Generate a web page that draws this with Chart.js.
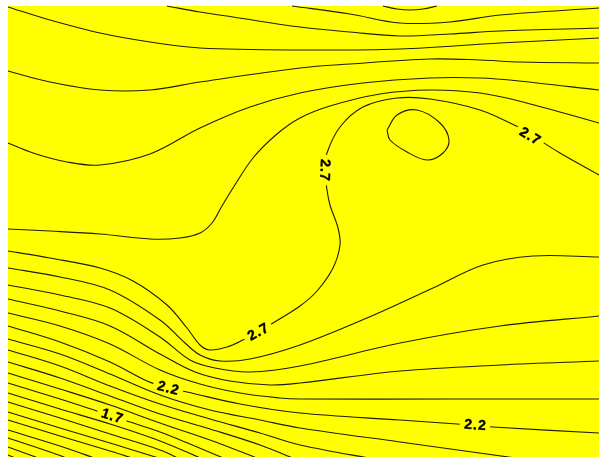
<!DOCTYPE html>
<html>
<head>
<meta charset="utf-8">
<script src="https://cdn.jsdelivr.net/npm/chart.js@4/dist/chart.umd.min.js"></script>
<style>
  html, body { margin: 0; padding: 0; background: #ffffff; overflow: hidden; }
  #wrap { width: 599px; height: 457px; }
  canvas { display: block; }
</style>
</head>
<body>
<div id="wrap"><canvas id="chart" width="599" height="457"></canvas></div>
<script>
// Isoline traces in field coordinates (x: 0..599 east, y: 0..457 south).
const lvl34 = [[383,6],[397,9],[410,10],[423,9],[437,6]];
const lvl33 = [[292,6],[350,14],[400,23],[450,22],[500,15],[599,8]];
const lvl32 = [[167,6],[200,12],[233,17],[300,27],[350,32],[400,36],[450,34],[500,31],[599,28]];
const lvl31 = [[8,7],[50,20],[100,33],[150,42],[200,48],[300,50],[400,49],[500,43],[599,38]];
const lvl30 = [[8,71],[50,82],[100,90],[150,90],[200,82],[300,68],[350,64],[430,59],[480,60],[520,62],[599,63]];
const lvl29 = [[8,143],[33,153],[67,162],[100,165],[150,154],[200,128],[250,107],[300,93],[363,83],[430,78],[480,78],[519,81],[599,90]];
const lvl28 = [[8,229],[50,231],[100,234],[150,239],[180,238],[200,233],[212,223],[222,206],[233,188],[253,158],[277,134],[300,118],[330,106],[380,94],[430,90],[480,93],[519,101],[599,123]];
const lvl27 = [[8,251],[50,258],[100,268],[133,281],[167,305],[187,328],[200,345],[210,350],[227,347],[243,340],[258,332],[273,323],[300,306],[317,291],[333,268],[340,245],[338,228],[330,205],[327,190],[325,170],[327,153],[340,127],[363,107],[397,98],[430,99],[480,110],[520,128],[530,134],[560,153],[599,175]];
const lvl27ring = [[387,130],[397,115],[417,110],[440,123],[449,140],[443,153],[427,160],[407,152],[390,140],[387,130]];
const lvl26 = [[8,268],[60,277],[110,290],[160,320],[185,343],[200,355],[220,361],[250,359],[300,345],[367,318],[433,288],[483,265],[533,256],[599,257]];
const lvl25 = [[8,285],[60,295],[110,308],[160,337],[190,360],[215,368],[250,372],[300,366],[400,343],[500,326],[599,316]];
const lvl24 = [[8,299],[60,311],[110,326],[160,354],[195,372],[230,381],[270,385],[300,383],[400,371],[500,365],[599,361]];
const lvl23 = [[8,313],[60,326],[110,344],[160,370],[200,384],[240,393],[280,398],[300,399],[450,399],[599,399]];
const lvl22 = [[8,326],[60,342],[110,362],[147,381],[168,388],[187,392],[240,404],[300,413],[400,420],[457,424],[475,425],[493,427],[599,433]];
const lvl21 = [[8,339],[60,354],[110,374],[160,395],[210,410],[260,420],[300,428],[400,442],[530,460]];
const lvl20 = [[8,350],[60,366],[110,386],[160,404],[210,419],[260,433],[300,445],[380,460]];
const lvl19 = [[8,362],[60,378],[110,396],[160,414],[210,429],[260,445],[300,461]];
const lvl18 = [[8,373],[60,389],[110,405],[160,423],[210,440],[262,460]];
const lvl17 = [[8,383],[60,399],[97,411],[112,416],[127,421],[160,432],[190,444],[228,460]];
const lvl16 = [[8,393],[60,409],[110,424],[160,441],[205,460]];
const lvl15 = [[8,402],[60,418],[110,434],[160,450],[182,460]];
const lvl14 = [[8,412],[60,428],[110,443],[165,460]];
const lvl13 = [[8,420],[60,436],[110,451],[138,460]];
const lvl12 = [[8,430],[60,446],[100,460]];
const lvl11 = [[8,438],[50,452],[72,460]];
const lvl10 = [[8,447],[30,455],[44,460]];
const lvl09 = [[8,455],[20,460]];

const isolines = [lvl34, lvl33, lvl32, lvl31, lvl30, lvl29, lvl28, lvl27, lvl27ring,
  lvl26, lvl25, lvl24, lvl23, lvl22, lvl21, lvl20, lvl19, lvl18, lvl17, lvl16,
  lvl15, lvl14, lvl13, lvl12, lvl11, lvl10, lvl09];

// Inline level labels: text, anchor on its isoline, and text direction (degrees).
const labelText = ['2.7', '2.7', '2.7', '2.2', '2.2', '1.7'];
const labelAt = [[325,170], [530,136], [258,332], [168,388], [475,425], [112,416]];
const labelAngle = [92, 31, -29, 15, 4, 18];

const FIELD = { x0: 8, y0: 6, x1: 599, y1: 457 };

const fieldBackground = {
  id: 'fieldBackground',
  beforeDatasetsDraw(chart) {
    const { ctx, scales: { x, y } } = chart;
    const left = x.getPixelForValue(FIELD.x0), right = x.getPixelForValue(FIELD.x1);
    const top = y.getPixelForValue(FIELD.y0), bottom = y.getPixelForValue(FIELD.y1);
    ctx.save();
    ctx.fillStyle = '#ffff00';
    ctx.fillRect(left, top, right - left, bottom - top);
    ctx.restore();
  }
};

const levelLabels = {
  id: 'levelLabels',
  afterDatasetsDraw(chart) {
    const { ctx, scales: { x, y } } = chart;
    ctx.save();
    ctx.font = 'bold 14px "Liberation Sans", Arial, sans-serif';
    ctx.letterSpacing = '1px';
    ctx.textAlign = 'center';
    ctx.textBaseline = 'middle';
    labelText.forEach((t, i) => {
      const px = x.getPixelForValue(labelAt[i][0]);
      const py = y.getPixelForValue(labelAt[i][1]);
      const w = ctx.measureText(t).width;
      ctx.save();
      ctx.translate(px, py);
      ctx.rotate(labelAngle[i] * Math.PI / 180);
      ctx.fillStyle = '#ffff00';
      ctx.fillRect(-w / 2 - 4, -6, w + 8, 12);
      ctx.fillStyle = '#000000';
      ctx.fillText(t, 0.5, 0.5);
      ctx.lineWidth = 0.4;
      ctx.strokeStyle = '#000000';
      ctx.strokeText(t, 0.5, 0.5);
      ctx.restore();
    });
    ctx.restore();
  }
};

new Chart(document.getElementById('chart'), {
  type: 'scatter',
  data: {
    datasets: isolines.map(pts => ({
      data: pts.map(([px, py]) => ({ x: px, y: py })),
      showLine: true,
      borderColor: '#1e1e00',
      borderWidth: 1.1,
      pointRadius: 0,
      tension: 0.35,
      fill: false
    }))
  },
  options: {
    responsive: false,
    animation: false,
    devicePixelRatio: 1,
    layout: { padding: 0 },
    scales: {
      x: { type: 'linear', min: 0, max: 599, display: false },
      y: { type: 'linear', min: 0, max: 457, reverse: true, display: false }
    },
    plugins: {
      legend: { display: false },
      tooltip: { enabled: false }
    },
    elements: { line: { capBezierPoints: false } }
  },
  plugins: [fieldBackground, levelLabels]
});
</script>
</body>
</html>
